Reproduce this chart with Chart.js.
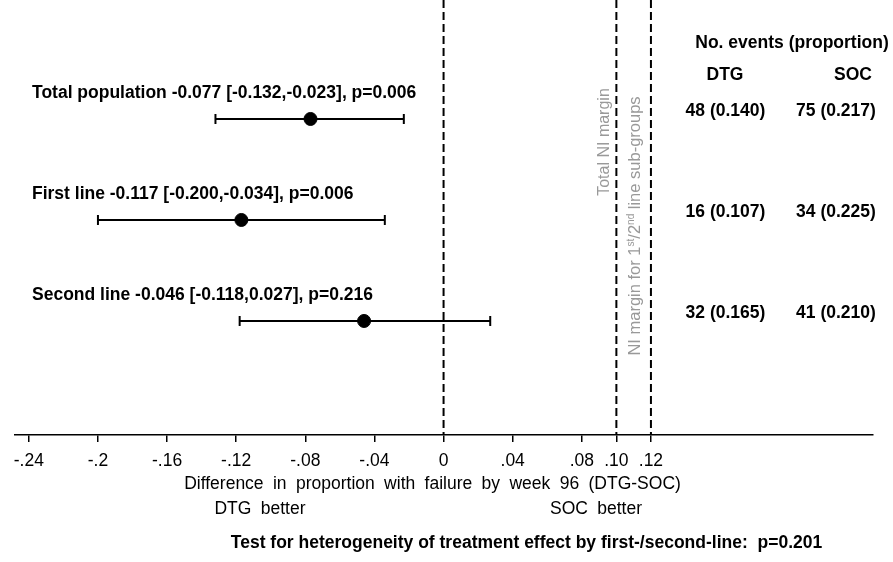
<!DOCTYPE html>
<html>
<head>
<meta charset="utf-8">
<script src="https://cdn.jsdelivr.net/npm/chart.js@4.4.1/dist/chart.umd.min.js"></script>
<style>
html,body{margin:0;padding:0;background:#fff;}
canvas{display:block;}
</style>
</head>
<body>
<canvas id="c" width="893" height="562"></canvas>
<script>
// ---- data ----
const categories = ['Total population', 'First line', 'Second line'];
const rowPositions = [3, 2, 1];
const estimates = [-0.077, -0.117, -0.046];
const lowerCI = [-0.132, -0.200, -0.118];
const upperCI = [-0.023, -0.034, 0.027];
const pValues = ['0.006', '0.006', '0.216'];
const dtgEvents = [48, 16, 32];
const dtgProp = [0.140, 0.107, 0.165];
const socEvents = [75, 34, 41];
const socProp = [0.217, 0.225, 0.210];
const tickValues = [-0.24, -0.2, -0.16, -0.12, -0.08, -0.04, 0, 0.04, 0.08, 0.10, 0.12];
const tickLabels = ['-.24', '-.2', '-.16', '-.12', '-.08', '-.04', '0', '.04', '.08', '.10', '.12'];
const refLines = [0, 0.10, 0.12];
const xTitle = 'Difference in proportion with failure by week 96 (DTG-SOC)';
const leftNote = 'DTG better';
const rightNote = 'SOC better';
const footNote = 'Test for heterogeneity of treatment effect by first-/second-line:  p=0.201';
const tableTitle = 'No. events (proportion)';
const tableCols = ['DTG', 'SOC'];
const refLabels = ['Total NI margin', 'NI margin for 1st/2nd line sub-groups'];

const X_MIN = -0.248, X_MAX = 0.2485;
const Y_MIN = -0.129, Y_MAX = 4.178;

const FONT = '"Liberation Sans", Arial, sans-serif';

const datasets = [];
refLines.forEach(v => {
  datasets.push({
    type: 'line',
    data: [{x: v, y: Y_MAX}, {x: v, y: Y_MIN}],
    borderColor: '#000', borderWidth: 2, borderDash: [8, 4],
    pointRadius: 0, fill: false
  });
});
categories.forEach((c, i) => {
  datasets.push({
    type: 'line',
    data: [{x: lowerCI[i], y: rowPositions[i]}, {x: upperCI[i], y: rowPositions[i]}],
    borderColor: '#000', borderWidth: 2,
    pointStyle: 'line', pointRotation: 90, pointRadius: 5,
    pointBorderColor: '#000', pointBorderWidth: 2, fill: false
  });
});
datasets.push({
  type: 'scatter',
  data: estimates.map((e, i) => ({x: e, y: rowPositions[i]})),
  backgroundColor: '#000', borderColor: '#000', pointRadius: 6.5, pointHoverRadius: 6.5
});

const textPlugin = {
  id: 'texts',
  afterDraw(chart) {
    const ctx = chart.ctx;
    const xs = chart.scales.x, ys = chart.scales.y;
    const ca = chart.chartArea;
    ctx.save();
    ctx.fillStyle = '#000';
    ctx.textBaseline = 'middle';
    // row labels
    ctx.font = 'bold 17.5px ' + FONT;
    ctx.textAlign = 'left';
    categories.forEach((c, i) => {
      const y = ys.getPixelForValue(rowPositions[i]) - 25.5;
      const t = `${c} ${estimates[i].toFixed(3)} [${lowerCI[i].toFixed(3)},${upperCI[i].toFixed(3)}], p=${pValues[i]}`;
      ctx.fillText(t, ca.left + 17, y);
    });
    // table
    ctx.textAlign = 'center';
    ctx.fillText(tableTitle, 792, 43.5);
    ctx.fillText(tableCols[0], 725, 75);
    ctx.fillText(tableCols[1], 853, 75);
    categories.forEach((c, i) => {
      const y = ys.getPixelForValue(rowPositions[i]) - 8;
      ctx.fillText(`${dtgEvents[i]} (${dtgProp[i].toFixed(3)})`, 725.5, y);
      ctx.fillText(`${socEvents[i]} (${socProp[i].toFixed(3)})`, 836, y);
    });
    // vertical reference labels
    ctx.fillStyle = '#999';
    ctx.font = '16px ' + FONT;
    ctx.save();
    ctx.translate(xs.getPixelForValue(refLines[1]) - 12, 142);
    ctx.rotate(-Math.PI / 2);
    ctx.fillText(refLabels[0], 0, 0);
    ctx.restore();
    ctx.save();
    ctx.translate(xs.getPixelForValue(refLines[2]) - 15, 226);
    ctx.rotate(-Math.PI / 2);
    const parts = [['NI margin for 1', false], ['st', true], ['/2', false], ['nd', true], [' line sub-groups', false]];
    const fs = p => (p[1] ? '10px ' : '16.5px ') + FONT;
    let total = 0;
    parts.forEach(p => { ctx.font = fs(p); total += ctx.measureText(p[0]).width; });
    let x = -total / 2;
    ctx.textAlign = 'left';
    parts.forEach(p => {
      ctx.font = fs(p);
      ctx.fillText(p[0], x, p[1] ? -4.5 : 0);
      x += ctx.measureText(p[0]).width;
    });
    ctx.restore();
    // axis title & notes
    ctx.fillStyle = '#000';
    ctx.textAlign = 'center';
    ctx.font = '17.5px ' + FONT;
    try { ctx.wordSpacing = '4.5px'; } catch (e) {}
    ctx.fillText(xTitle, 432.5, 484);
    ctx.fillText(leftNote, 260, 509);
    ctx.fillText(rightNote, 596, 509);
    try { ctx.wordSpacing = '0px'; } catch (e) {}
    ctx.font = 'bold 17.5px ' + FONT;
    ctx.fillText(footNote, 526.5, 543);
    ctx.restore();
  }
};

new Chart(document.getElementById('c'), {
  type: 'scatter',
  data: {datasets},
  options: {
    responsive: false, animation: false, devicePixelRatio: 1,
    layout: {autoPadding: false, padding: {left: 15, right: 20, top: 0, bottom: 81}},
    plugins: {legend: {display: false}, tooltip: {enabled: false}},
    scales: {
      x: {
        type: 'linear', min: X_MIN, max: X_MAX,
        afterBuildTicks: s => { s.ticks = tickValues.map(v => ({value: v})); },
        ticks: {
          autoSkip: false, maxRotation: 0, color: '#000', padding: 9,
          font: {family: FONT, size: 17.5},
          callback: v => { const i = tickValues.findIndex(t => Math.abs(t - v) < 1e-9); return i >= 0 ? tickLabels[i] : ''; }
        },
        grid: {display: true, drawOnChartArea: false, drawTicks: true, tickLength: 7, color: '#000', lineWidth: 1.5},
        border: {display: true, color: '#000', width: 1.5}
      },
      y: {type: 'linear', min: Y_MIN, max: Y_MAX, display: false}
    }
  },
  plugins: [textPlugin]
});
</script>
</body>
</html>
